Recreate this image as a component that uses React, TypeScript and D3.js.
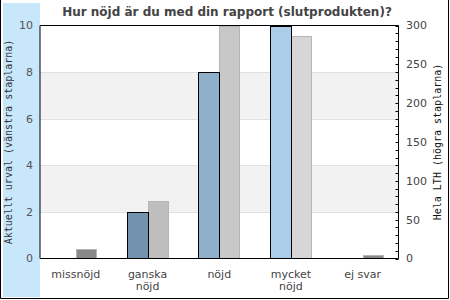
import React from "react";
import * as d3 from "d3";

const categories = ["missnöjd", "ganska nöjd", "nöjd", "mycket nöjd", "ej svar"];
const categoryLines = [["missnöjd"], ["ganska", "nöjd"], ["nöjd"], ["mycket", "nöjd"], ["ej svar"]];
const leftValues = [0, 2, 8, 10, 0];
const rightValues = [12, 74, 300, 286, 5];
const leftColors = ["#5f7f9c", "#7292ae", "#8eb0cb", "#abcde9", "#5f7f9c"];
const rightColors = ["#898989", "#bebebe", "#c8c8c8", "#d6d6d6", "#898989"];
const leftTicks = [0, 2, 4, 6, 8, 10];
const rightMajor = [0, 50, 100, 150, 200, 250, 300];
const title = "Hur nöjd är du med din rapport (slutprodukten)?";
const leftTitle = "Aktuellt urval (vänstra staplarna)";
const rightTitle = "Hela LTH (högra staplarna)";

export default function App() {
  const W = 450, H = 300;
  const x0 = 40, x1 = 398.5, yTop = 25.5, yBot = 258.5;
  const x = d3.scaleBand<string>().domain(categories).range([x0, x1]).paddingInner(0.415).paddingOuter(0.2075);
  const yL = d3.scaleLinear().domain([0, 10]).range([yBot, yTop]);
  const yR = d3.scaleLinear().domain([0, 300]).range([yBot, yTop]);
  const sub = d3.scaleBand<string>().domain(["L", "R"]).range([0, x.bandwidth()]);
  const minor = d3.range(0, 301, 10);
  const bands = [[2, 4], [6, 8]];
  const grid = [2, 4, 6, 8];

  return (
    <svg width={W} height={H} style={{ position: "absolute", left: 0, top: 0, background: "#fff" }}>
      <rect x={3} y={3} width={37} height={294} fill="#c8e7fb" />
      {bands.map(([a, b], i) => (
        <rect key={"b" + i} x={x0} y={yL(b)} width={x1 - x0} height={yL(a) - yL(b)} fill="#f2f2f2" />
      ))}
      {grid.map((g) => (
        <line key={"g" + g} x1={x0} x2={x1} y1={Math.round(yL(g)) + 0.5} y2={Math.round(yL(g)) + 0.5} stroke="#e0e0e0" />
      ))}
      {categories.map((c, i) => {
        const bx = x(c)!;
        const lv = leftValues[i];
        const rv = Math.min(rightValues[i], 300);
        return (
          <g key={c}>
            {rv > 0 && (
              <rect x={Math.round(bx + sub("R")!) + 0.5} y={Math.round(yR(rv)) + 0.5} width={Math.round(sub.bandwidth()) - 1}
                height={yBot - Math.round(yR(rv)) - 0.5} fill={rightColors[i]} stroke="#b5b5b5" />
            )}
            {lv > 0 && (
              <rect x={Math.round(bx + sub("L")!) + 0.5} y={Math.round(yL(lv)) + 0.5} width={Math.round(sub.bandwidth())}
                height={yBot - Math.round(yL(lv)) - 0.5} fill={leftColors[i]} stroke="#000" />
            )}
          </g>
        );
      })}
      <path d={`M${x0},${yTop}H${x1}V${yBot}H${x0}Z`} fill="none" stroke="#000" />
      {minor.map((t) => (
        <line key={"m" + t} x1={x1 - 3} x2={x1} y1={Math.round(yR(t)) + 0.5} y2={Math.round(yR(t)) + 0.5} stroke="#000" />
      ))}
      {leftTicks.map((t) => (
        <text key={"lt" + t} x={33} y={yL(t)} dy="0.35em" textAnchor="end" fontFamily="DejaVu Sans" fontSize={11} fill="#555">{t}</text>
      ))}
      {rightMajor.map((t) => (
        <text key={"rt" + t} x={406} y={yR(t)} dy="0.35em" textAnchor="start" fontFamily="DejaVu Sans" fontSize={11} fill="#444">{t}</text>
      ))}
      {categories.map((c, i) => {
        const cx = x(c)! + x.bandwidth() / 2;
        return (
          <text key={"c" + c} x={cx} y={277.5} textAnchor="middle" fontFamily="DejaVu Sans" fontSize={11} fill="#444">
            {categoryLines[i].map((l, j) => (
              <tspan key={j} x={cx} dy={j === 0 ? 0 : 12}>{l}</tspan>
            ))}
          </text>
        );
      })}
      <text x={227} y={16} textAnchor="middle" fontFamily="DejaVu Sans" fontWeight="bold" fontSize={12} fill="#444">{title}</text>
      <text transform={`translate(11.5,${(yTop + yBot) / 2}) rotate(-90)`} textAnchor="middle" fontFamily="DejaVu Sans Mono" fontSize={10} fill="#333">{leftTitle}</text>
      <text transform={`translate(441,${(yTop + yBot) / 2}) rotate(-90)`} textAnchor="middle" fontFamily="DejaVu Sans Mono" fontSize={10} fill="#111">{rightTitle}</text>
      <path d={`M0.5,0V${H - 1.5}H${W - 1.5}V0`} fill="none" stroke="#000" />
    </svg>
  );
}
